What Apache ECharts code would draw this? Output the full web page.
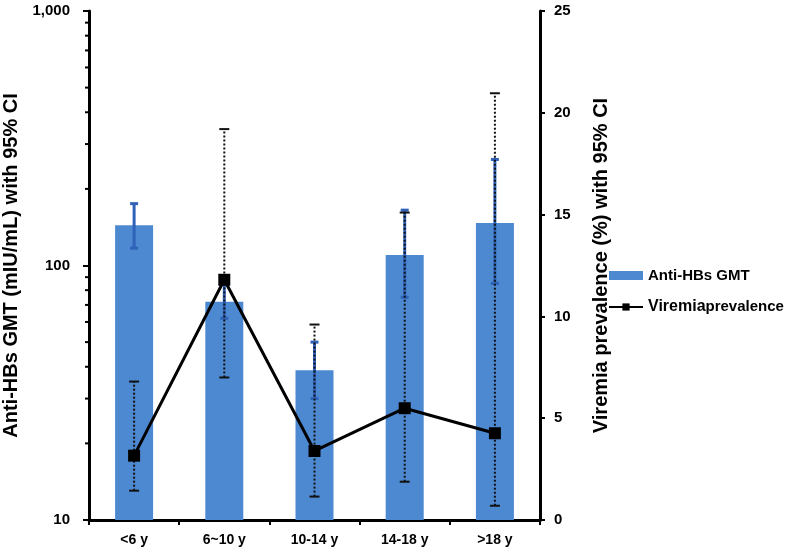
<!DOCTYPE html>
<html>
<head>
<meta charset="utf-8">
<script src="https://cdn.jsdelivr.net/npm/echarts@6/dist/echarts.min.js"></script>
<style>html,body{margin:0;padding:0;background:#fff}#c{width:800px;height:555px}</style>
</head>
<body>
<div id="c"></div>
<script>
var categories = ['<6 y', '6~10 y', '10-14 y', '14-18 y', '>18 y'];
var gmtValues = [144, 72, 38.8, 110, 147];
var gmtLow = [117, 62, 30, 75, 85];
var gmtHigh = [175, 86, 50, 165, 261];
var viremiaValues = [3.16, 11.8, 3.39, 5.49, 4.26];
var viremiaLow = [1.44, 7.0, 1.15, 1.88, 0.70];
var viremiaHigh = [6.8, 19.2, 9.6, 15.1, 20.96];
var leftTicks = [10, 100, 1000];
var leftMinorTicks = [20, 30, 40, 50, 60, 70, 80, 90, 200, 300, 400, 500, 600, 700, 800, 900];

var FONT = 'Arial, "Liberation Sans", sans-serif';
var chart = echarts.init(document.getElementById('c'), null, {renderer: 'canvas'});

function errData(lo, hi) {
  return categories.map(function (c, i) { return [i, lo[i], hi[i]]; });
}
function errRender(color, dash, width, capW) {
  return function (params, api) {
    var i = api.value(0);
    var p1 = api.coord([i, api.value(1)]);
    var p2 = api.coord([i, api.value(2)]);
    var st = {stroke: color, lineWidth: width, lineDash: dash};
    return {type: 'group', children: [
      {type: 'line', shape: {x1: p1[0], y1: p1[1], x2: p2[0], y2: p2[1]}, style: st},
      {type: 'line', shape: {x1: p1[0] - capW, y1: p1[1], x2: p1[0] + capW, y2: p1[1]}, style: {stroke: color, lineWidth: width}},
      {type: 'line', shape: {x1: p2[0] - capW, y1: p2[1], x2: p2[0] + capW, y2: p2[1]}, style: {stroke: color, lineWidth: width}}
    ]};
  };
}

var option = {
  animation: false,
  textStyle: {fontFamily: FONT},
  grid: {left: 89, right: 260, top: 11, bottom: 35, containLabel: false, outerBoundsMode: 'none'},
  legend: {
    orient: 'vertical', left: 603, top: 263, itemGap: 16,
    itemWidth: 34, itemHeight: 9,
    data: [
      {name: 'Anti-HBs GMT', icon: 'rect'},
      {name: 'Viremia prevalence'}
    ],
    formatter: function (n) {
      if (n === 'Viremia prevalence') return '{a|Viremia}{b|prevalence}';
      return n;
    },
    textStyle: {
      fontFamily: FONT, fontWeight: 'bold', fontSize: 15, color: '#000',
      rich: {
        a: {fontFamily: FONT, fontWeight: 'bold', fontSize: 16, color: '#000'},
        b: {fontFamily: FONT, fontWeight: 'bold', fontSize: 15, color: '#000'}
      }
    }
  },
  xAxis: {
    type: 'category', data: categories,
    axisLine: {lineStyle: {color: '#000', width: 3}},
    axisTick: {show: true, length: 5, lineStyle: {color: '#000', width: 2}},
    axisLabel: {color: '#000', fontWeight: 'bold', fontSize: 14, margin: 13, fontFamily: FONT}
  },
  yAxis: [
    {
      type: 'log', logBase: 10, min: 10, max: 1000,
      name: 'Anti-HBs GMT (mIU/mL) with 95% CI', nameLocation: 'middle', nameGap: 67,
      nameTextStyle: {color: '#000', fontWeight: 'bold', fontSize: 20, fontFamily: FONT},
      axisLine: {show: true, lineStyle: {color: '#000', width: 3}},
      axisTick: {show: true, length: 6, lineStyle: {color: '#000', width: 2}},
      splitLine: {show: false},
      axisLabel: {color: '#000', fontWeight: 'bold', fontSize: 15, margin: 19, fontFamily: FONT,
        formatter: function (v) { return Math.round(v).toString().replace(/\B(?=(\d{3})+(?!\d))/g, ','); }}
    },
    {
      type: 'value', min: 0, max: 25, interval: 5,
      name: 'Viremia prevalence (%) with 95% CI', nameLocation: 'middle', nameGap: 51, nameRotate: 90,
      nameTextStyle: {color: '#000', fontWeight: 'bold', fontSize: 20, fontFamily: FONT},
      axisLine: {show: true, lineStyle: {color: '#000', width: 3}},
      axisTick: {show: true, length: 5, lineStyle: {color: '#000', width: 2}},
      splitLine: {show: false},
      axisLabel: {color: '#000', fontWeight: 'bold', fontSize: 15, margin: 14, fontFamily: FONT}
    }
  ],
  series: [
    {
      name: 'Anti-HBs GMT', type: 'bar', yAxisIndex: 0, data: gmtValues, barWidth: 38,
      itemStyle: {color: '#4d89d0'}, z: 2
    },
    {
      name: 'gmtErr', type: 'custom', yAxisIndex: 0, data: errData(gmtLow, gmtHigh),
      renderItem: errRender('#2f62b8', null, 3, 4), z: 3, silent: true
    },
    {
      name: 'virErr', type: 'custom', yAxisIndex: 1, data: errData(viremiaLow, viremiaHigh),
      renderItem: errRender('#111', [2, 2], 2, 5), z: 4, silent: true
    },
    {
      name: 'Viremia prevalence', type: 'line', yAxisIndex: 1, data: viremiaValues,
      symbol: 'rect', symbolSize: 12,
      lineStyle: {color: '#000', width: 3}, itemStyle: {color: '#000'}, z: 5
    },
    {
      name: 'minorTicks', type: 'custom', yAxisIndex: 0, silent: true, z: 6,
      data: leftMinorTicks.map(function (v) { return [0, v]; }),
      renderItem: function (params, api) {
        var p = api.coord([0, api.value(1)]);
        var x = params.coordSys.x;
        return {type: 'line', shape: {x1: x - 4, y1: p[1], x2: x, y2: p[1]}, style: {stroke: '#000', lineWidth: 2}};
      }
    }
  ]
};
chart.setOption(option);
</script>
</body>
</html>
